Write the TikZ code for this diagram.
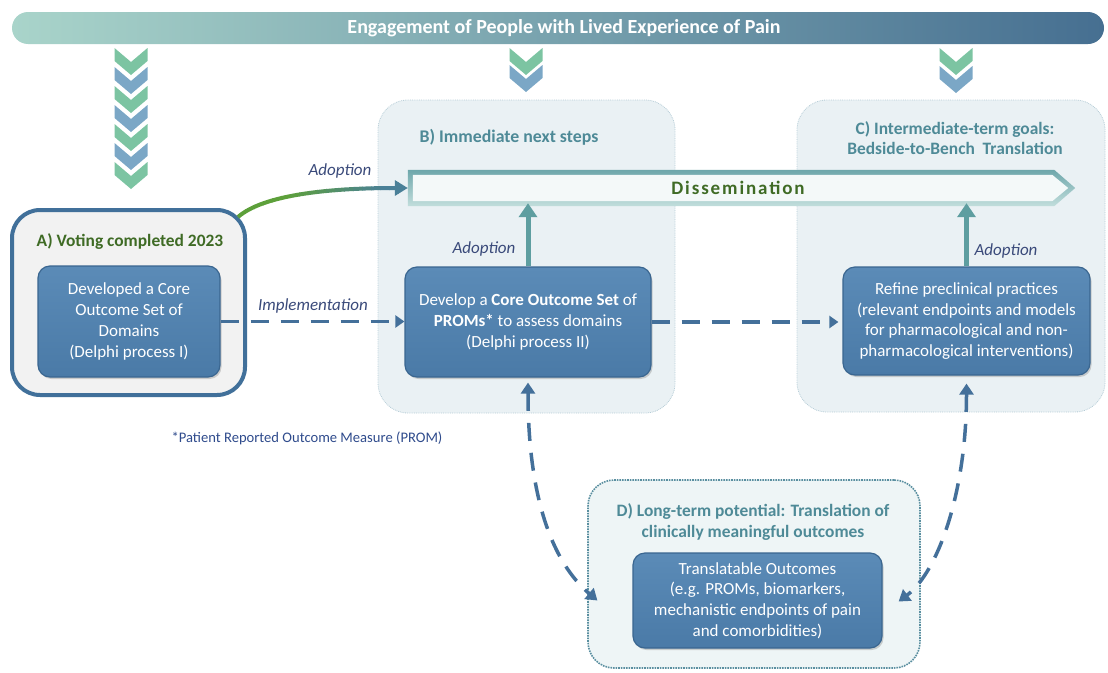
\documentclass[tikz,border=0pt]{standalone}
\usepackage{fontspec}
\setmainfont{Carlito}
\newfontfamily\spacedfont[LetterSpace=10]{Carlito}
\usetikzlibrary{arrows.meta,shadows,calc}

\definecolor{boxblue}{HTML}{4A7AA7}
\definecolor{boxtop}{HTML}{5B8BB7}
\definecolor{boxedge}{HTML}{3A6690}
\definecolor{ringblue}{HTML}{41709A}
\definecolor{ringfill}{HTML}{F2F2F2}
\definecolor{tealtxt}{HTML}{4E8A97}
\definecolor{greentxt}{HTML}{3F6B25}
\definecolor{labeltxt}{HTML}{3A4A7A}
\definecolor{dashblue}{HTML}{44709A}
\definecolor{adoptteal}{HTML}{5E9EA0}
\definecolor{panelfill}{HTML}{EAF1F4}
\definecolor{paneledge}{HTML}{B5CCD6}
\definecolor{longfill}{HTML}{EEF5F6}
\definecolor{longedge}{HTML}{5A8FA0}
\definecolor{chevgreen}{HTML}{7CC4A2}
\definecolor{chevblue}{HTML}{7BA7C6}
\definecolor{bandL}{HTML}{A9D4CA}
\definecolor{bandM}{HTML}{7BBFA9}
\definecolor{bandR}{HTML}{466F91}
\definecolor{notetxt}{HTML}{2F4B8C}
\definecolor{curvegreen}{HTML}{5DA03A}
\definecolor{curveteal}{HTML}{4A8098}
\definecolor{dissedgeA}{HTML}{6EA7AB}
\definecolor{dissedgeB}{HTML}{C2DEDC}
\definecolor{dissfill}{HTML}{F4F9F9}

% one chevron: centre x, top y, colour
\newcommand\drawchev[3]{%
  \fill[#3] (#1-16.5,#2) -- (#1,#2+14) -- (#1+16.5,#2) -- (#1+16.5,#2+13)
    -- (#1,#2+27) -- (#1-16.5,#2+13) -- cycle;}

\begin{document}
\begin{tikzpicture}[x=1pt,y=-1pt,
  bodyfont/.style={font=\fontsize{17}{20.8}\selectfont},
  innerbox/.style={rounded corners=12pt, top color=boxtop, bottom color=boxblue,
    draw=boxedge, line width=1.2pt, text=white, align=center, inner sep=0pt,
    drop shadow={opacity=0.35, shadow xshift=1.5pt, shadow yshift=-2pt},
    bodyfont},
  panel/.style={rounded corners=30pt, fill=panelfill, draw=paneledge,
    densely dotted, line width=0.8pt, inner sep=0pt},
  paneltitle/.style={text=tealtxt, align=center,
    font=\bfseries\fontsize{17.4}{20.5}\selectfont},
  flowlabel/.style={text=labeltxt, font=\itshape\fontsize{17}{20}\selectfont},
  dasharrow/.style={draw=dashblue, line width=3.5pt, dash pattern=on 18pt off 12pt,
    -{Triangle[length=9pt,width=12pt]}},
  dashcurve/.style={draw=dashblue, line width=3.5pt, dash pattern=on 18pt off 12pt,
    {Triangle[length=11pt,width=14pt]}-{Triangle[length=11pt,width=14pt]}},
  adoptarrow/.style={draw=adoptteal, line width=5pt,
    -{Triangle[length=14pt,width=18pt]}},
]
\useasboundingbox (0,0) rectangle (1108,672);

% banner
\node[rounded corners=16pt, left color=bandL, middle color=bandM, right color=bandR,
  minimum width=1092pt, minimum height=32pt, inner sep=0pt] (banner) at (558,28) {};
\node[text=white, font=\bfseries\fontsize{20}{22}\selectfont] (bannertext)
  at (564,28) {Engagement of People with Lived Experience of Pain};

% chevron columns
\foreach \k in {0,...,6}{
  \pgfmathtruncatemacro\odd{mod(\k,2)}
  \ifnum\odd=0 \drawchev{131}{48+19*\k}{chevgreen}\else\drawchev{131}{48+19*\k}{chevblue}\fi
}
\drawchev{526}{48}{chevgreen}
\drawchev{526}{65}{chevblue}
\drawchev{956}{48}{chevgreen}
\drawchev{956}{66}{chevblue}

% background panels
\node[panel, minimum width=297pt, minimum height=313pt] (Bpanel) at (526.5,256.5) {};
\node[panel, minimum width=308pt, minimum height=312pt] (Cpanel) at (951,256) {};
\node[panel, fill=longfill, draw=longedge, line width=1.6pt, rounded corners=26pt,
  minimum width=332pt, minimum height=188pt] (Dpanel) at (754,574) {};
\node[rounded corners=28pt, fill=ringfill, draw=ringblue, line width=4pt,
  minimum width=233pt, minimum height=185pt, inner sep=0pt] (Aring) at (128.5,302.5) {};

% titles
\node[text=greentxt, font=\bfseries\fontsize{17.4}{20}\selectfont] (Atitle) at (130,242)
  {A) Voting completed 2023};
\node[paneltitle, font=\bfseries\fontsize{17.8}{21}\selectfont] (Btitle) at (509,137)
  {B) Immediate next steps};
\node[paneltitle] (Ctitle) at (955,138)
  {C) Intermediate-term goals:\\Bedside-to-Bench~ Translation};
\node[paneltitle] (Dtitle) at (753,522)
  {D) Long-term potential: Translation of\\clinically meaningful outcomes};

% dissemination band
\node[minimum width=646pt, minimum height=36pt, inner sep=0pt] (diss) at (731,188) {};
\shade[top color=dissedgeA, bottom color=dissedgeB]
  (diss.north west) -- (diss.north east) -- ($(diss.east)+(21,0)$)
  -- (diss.south east) -- (diss.south west) -- cycle;
\fill[dissfill] ($(diss.north west)+(5,5)$) -- ($(diss.north east)+(-2,5)$)
  -- ($(diss.east)+(14,0)$) -- ($(diss.south east)+(-2,-5)$)
  -- ($(diss.south west)+(5,-5)$) -- cycle;
\node[text=greentxt, font=\spacedfont\bfseries\fontsize{19}{22}\selectfont]
  (disstext) at (738,188) {Dissemination};

% step boxes
\node[innerbox, minimum width=182pt, minimum height=111pt] (Ain) at (129,321.5)
  {Developed a Core\\Outcome Set of\\Domains\\(Delphi process I)};
\node[innerbox, minimum width=246pt, minimum height=110pt] (Bin) at (528,322)
  {Develop a \textbf{Core Outcome Set} of\\\textbf{PROMs*} to assess domains\\(Delphi process II)};
\node[innerbox, minimum width=247pt, minimum height=108pt] (Cin) at (966.5,321)
  {Refine preclinical practices\\(relevant endpoints and models\\for pharmacological and non-\\pharmacological interventions)};
\node[innerbox, minimum width=249pt, minimum height=95pt] (Din) at (757.5,600.5)
  {Translatable Outcomes\\(e.g. PROMs, biomarkers,\\mechanistic endpoints of pain\\and comorbidities)};

% green-to-teal adoption curve, coloured slab by slab
\coordinate (curvestart) at ($(Aring.north east)+(-9,9)$);
\foreach \i in {0,...,19}{
  \pgfmathsetmacro\xa{236+\i*9}
  \pgfmathsetmacro\xb{236+(\i+1)*9+0.6}
  \pgfmathtruncatemacro\mix{max(0,min(100,100-(\i-5)*9))}
  \begin{scope}
    \clip (\xa,150) rectangle (\xb,240);
    \draw[line width=4pt, draw=curvegreen!\mix!curveteal,
      -{Triangle[length=13pt,width=15pt]}]
      (curvestart) .. controls +(25,-22) and +(-80,0) .. (diss.west);
  \end{scope}
}
\node[flowlabel] (lblA) at (340,171) {Adoption};

% adoption arrows into dissemination
\draw[adoptarrow, shorten >=-3pt] (Bin.north) -- (Bin.north |- diss.south);
\node[flowlabel] (lblB) at (484,249) {Adoption};
\draw[adoptarrow, shorten >=-3pt] (Cin.north) -- (Cin.north |- diss.south);
\node[flowlabel] (lblC) at (1006,251) {Adoption};

% implementation flow
\draw[dasharrow] (Ain.east) -- (Ain.east -| Bin.west);
\node[flowlabel] (lblI) at (313,306) {Implementation};
\draw[dasharrow, shorten >=4pt] (Bin.east) -- (Bin.east -| Cin.west);

% links with the long-term outcomes
\coordinate (Dleft) at ($(Din.west)+(-35,0)$);
\coordinate (Dright) at ($(Din.east)+(16,1)$);
\draw[dashcurve, shorten <=5pt] (Bin.south) .. controls +(0,120) and +(-45,-38) .. (Dleft);
\draw[dashcurve, shorten <=8pt] (Cin.south) .. controls +(0,115) and +(40,-30) .. (Dright);

% footnote
\node[text=notetxt, font=\fontsize{14.6}{16}\selectfont] (note) at (307,438)
  {*Patient Reported Outcome Measure (PROM)};
\end{tikzpicture}
\end{document}
